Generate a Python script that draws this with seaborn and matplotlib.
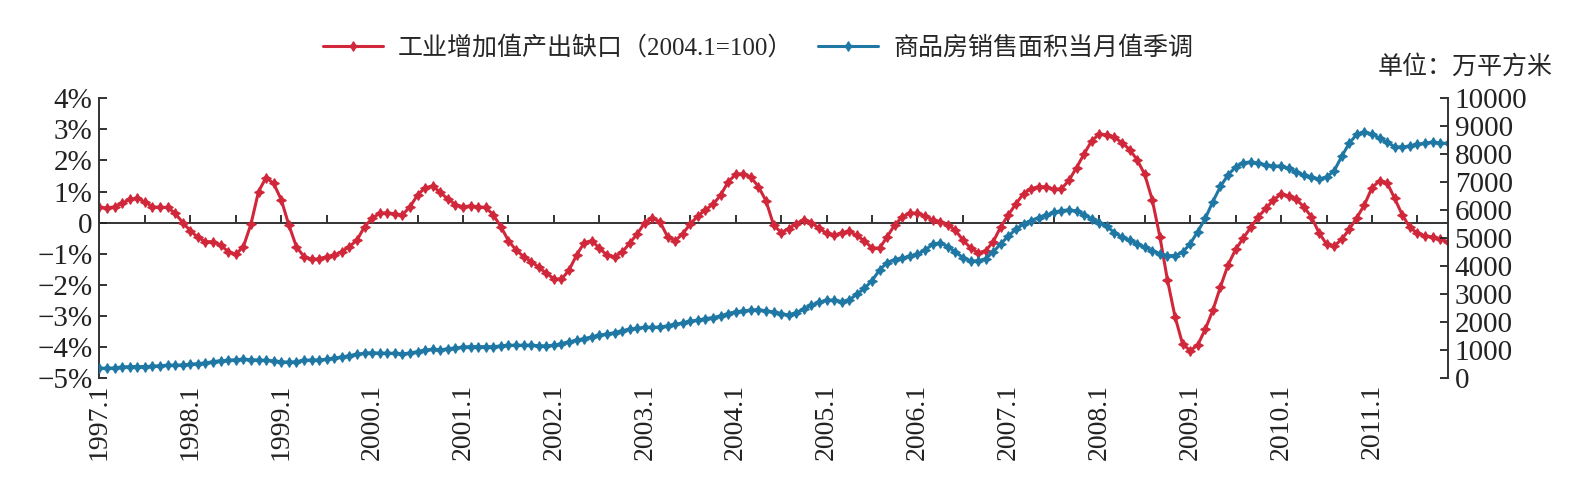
import numpy as np
import pandas as pd
import matplotlib
matplotlib.use("Agg")
import matplotlib.pyplot as plt
import seaborn as sns

# 月度数据 1997.1 - 2011.11
GAP_LABEL  = "工业增加值产出缺口（2004.1=100）"
AREA_LABEL = "商品房销售面积当月值季调"
UNIT_TEXT  = "单位：万平方米"
YEARS = list(range(1997, 2012))

# 工业增加值产出缺口 (%)
GAP = [0.49, 0.47, 0.51, 0.62, 0.75, 0.78, 0.67, 0.51, 0.49, 0.49, 0.30, 0.00,
       -0.26, -0.47, -0.61, -0.61, -0.72, -0.93, -1.02, -0.77, -0.05, 1.00, 1.45, 1.26,
       0.74, -0.07, -0.77, -1.09, -1.18, -1.16, -1.09, -1.04, -0.93, -0.77, -0.56, -0.13,
       0.14, 0.30, 0.32, 0.28, 0.25, 0.51, 0.89, 1.12, 1.18, 0.97, 0.76, 0.58,
       0.51, 0.54, 0.51, 0.49, 0.25, -0.13, -0.58, -0.88, -1.09, -1.25, -1.43, -1.63,
       -1.80, -1.82, -1.52, -1.04, -0.64, -0.58, -0.82, -1.04, -1.09, -0.95, -0.66, -0.36,
       0.00, 0.14, 0.03, -0.45, -0.58, -0.36, -0.04, 0.21, 0.41, 0.59, 0.88, 1.31,
       1.55, 1.58, 1.46, 1.16, 0.70, -0.07, -0.32, -0.19, -0.04, 0.10, 0.00, -0.18,
       -0.34, -0.41, -0.32, -0.28, -0.41, -0.59, -0.81, -0.82, -0.45, -0.07, 0.19, 0.30,
       0.31, 0.21, 0.09, 0.03, -0.07, -0.24, -0.56, -0.81, -0.97, -0.90, -0.61, -0.13,
       0.25, 0.61, 0.93, 1.09, 1.16, 1.15, 1.07, 1.09, 1.36, 1.77, 2.21, 2.63,
       2.84, 2.83, 2.74, 2.57, 2.35, 2.02, 1.55, 0.73, -0.45, -1.84, -3.02, -3.90,
       -4.11, -3.93, -3.42, -2.81, -2.06, -1.36, -0.86, -0.50, -0.15, 0.19, 0.46, 0.73,
       0.92, 0.86, 0.75, 0.51, 0.19, -0.32, -0.69, -0.75, -0.54, -0.21, 0.16, 0.57,
       1.12, 1.35, 1.28, 0.78, 0.25, -0.15, -0.34, -0.42, -0.46, -0.53, -0.61]

# 商品房销售面积当月值季调 (万平方米)
AREA = [360, 360, 370, 405, 417, 417, 420, 430, 450, 465, 465, 476,
        500, 524, 548, 595, 630, 640, 667, 680, 667, 650, 640, 620,
        595, 570, 595, 640, 655, 655, 680, 725, 760, 810, 857, 893,
        917, 893, 893, 893, 870, 905, 952, 1010, 1030, 1010, 1060, 1080,
        1120, 1130, 1130, 1130, 1130, 1155, 1180, 1180, 1180, 1180, 1165, 1155,
        1180, 1240, 1300, 1360, 1420, 1475, 1535, 1580, 1630, 1700, 1750, 1785,
        1820, 1820, 1830, 1870, 1930, 1975, 2035, 2080, 2130, 2170, 2225, 2310,
        2380, 2400, 2440, 2450, 2410, 2370, 2310, 2260, 2345, 2460, 2610, 2710,
        2790, 2790, 2740, 2800, 3000, 3210, 3490, 3870, 4130, 4240, 4300, 4350,
        4430, 4580, 4780, 4840, 4700, 4510, 4310, 4190, 4190, 4270, 4510, 4800,
        5080, 5320, 5510, 5630, 5740, 5820, 5920, 5990, 6010, 5980, 5830, 5700,
        5550, 5420, 5200, 5040, 4920, 4810, 4680, 4550, 4450, 4380, 4380, 4500,
        4800, 5240, 5710, 6310, 6850, 7260, 7540, 7700, 7720, 7670, 7620, 7580,
        7570, 7490, 7370, 7250, 7170, 7120, 7180, 7400, 7920, 8390, 8710, 8800,
        8710, 8580, 8420, 8270, 8250, 8300, 8350, 8390, 8440, 8390, 8390]

YLIM_LEFT  = (-5, 4)
YLIM_RIGHT = (0, 10000)

RED  = "#D0283A"
BLUE = "#1F77A4"

df = pd.DataFrame({"month": np.arange(len(GAP)), "gap": GAP, "area": AREA})

sns.set_theme(style="white")
plt.rcParams["font.family"] = ["Liberation Serif", "Noto Sans CJK SC", "DejaVu Sans"]

fig = plt.figure(figsize=(15.86, 4.87), dpi=100)
ax = fig.add_axes([0.0627, 0.2232, 0.8501, 0.5752])
ax2 = ax.twinx()

star = (4, 1, 0)
sns.lineplot(data=df, x="month", y="gap", ax=ax, color=RED, linewidth=2.2,
             marker=star, markersize=7, markeredgecolor=RED, markeredgewidth=0.9,
             label=GAP_LABEL, legend=False)
sns.lineplot(data=df, x="month", y="area", ax=ax2, color=BLUE, linewidth=2.2,
             marker=star, markersize=7, markeredgecolor=BLUE, markeredgewidth=0.9,
             label=AREA_LABEL, legend=False)

# 坐标轴
n = len(df)
ax.set_xlim(0, n - 1)
ax.set_ylim(*YLIM_LEFT)
ax2.set_ylim(*YLIM_RIGHT)

ax.set_yticks(range(YLIM_LEFT[0], YLIM_LEFT[1] + 1))
ax.set_yticklabels(["0" if v == 0 else f"{v}%".replace("-", "\u2212")
                    for v in range(YLIM_LEFT[0], YLIM_LEFT[1] + 1)])
ax2.set_yticks(range(YLIM_RIGHT[0], YLIM_RIGHT[1] + 1, 1000))

ax.set_xticks(range(0, n, 12))
ax.set_xticklabels([f"{y}.1" for y in YEARS], rotation=90)
ax.set_xlabel("")
ax.set_ylabel("")
ax2.set_ylabel("")

for a in (ax, ax2):
    for s in a.spines.values():
        s.set_visible(False)
ax.spines["left"].set_visible(True)
ax2.spines["right"].set_visible(True)
for s in (ax.spines["left"], ax2.spines["right"]):
    s.set_color("#333333")
    s.set_linewidth(1.4)

ax.tick_params(axis="y", direction="in", length=6, width=1.3, colors="#222222",
               labelsize=21, pad=5, left=True)
ax2.tick_params(axis="y", direction="in", length=6, width=1.3, colors="#222222",
                labelsize=21, pad=5, right=True)
ax.tick_params(axis="x", length=0, labelsize=20, pad=4, colors="#222222")

# 零轴线 + 半年刻度
zero_pos = (0 - YLIM_LEFT[0]) / (YLIM_LEFT[1] - YLIM_LEFT[0])
sec = ax.secondary_xaxis(zero_pos)
sec.set_xticks(range(0, n, 6))
sec.tick_params(axis="x", direction="out", length=6, width=1.3, color="#222222",
                labeltop=False, labelbottom=False)
for s in sec.spines.values():
    s.set_color("#333333")
    s.set_linewidth(1.4)

# 图例和单位
l1 = ax.get_lines()[0]
l2 = ax2.get_lines()[0]
fig.legend(handles=[l1, l2], labels=[GAP_LABEL, AREA_LABEL], loc="center",
           bbox_to_anchor=(0.478, 0.9025), ncol=2, frameon=False, fontsize=18,
           handlelength=2.4, columnspacing=1.0, handletextpad=0.6)
fig.text(0.979, 0.862, UNIT_TEXT, ha="right", va="center", fontsize=18)

plt.savefig("out.png", dpi=100)
plt.close()
